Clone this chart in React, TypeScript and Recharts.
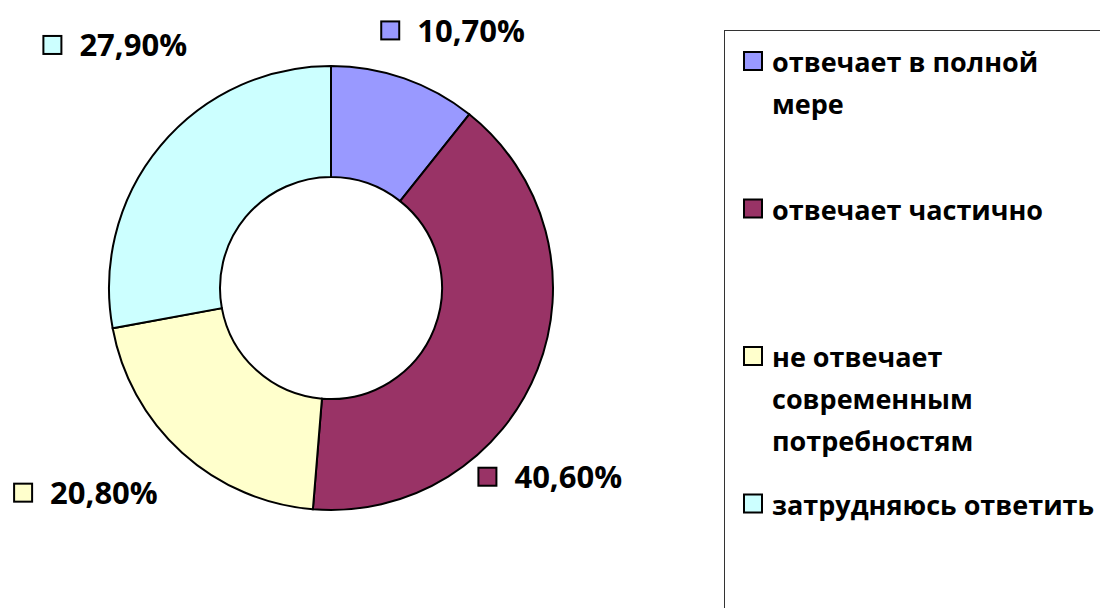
import React from "react";
import { PieChart, Pie, Cell, Legend } from "recharts";

const categories = [
  "отвечает в полной мере",
  "отвечает частично",
  "не отвечает современным потребностям",
  "затрудняюсь ответить",
];
const shares = [10.7, 40.6, 20.8, 27.9];
const colors = ["#9999FF", "#993366", "#FFFFCC", "#CCFFFF"];

// label placement (offset of marker from the slice's outer mid point)
const labelOffsets: [number, number][] = [
  [-24, -58],
  [-60, 97],
  [-169, 30],
  [-118, -111],
];

const data = categories.map((name, i) => ({ name, value: shares[i] }));

const FONT = "'Open Sans', 'DejaVu Sans', sans-serif";
const LEGEND_FONT_SIZE = 27;
const LABEL_FONT_SIZE = 31;
const RAD = Math.PI / 180;

const fmt = (v: number) => v.toFixed(2).replace(".", ",") + "%";

let ctx: CanvasRenderingContext2D | null = null;
function measure(text: string, font: string): number {
  if (!ctx) {
    const c = document.createElement("canvas");
    ctx = c.getContext("2d");
  }
  if (!ctx) return text.length * 15;
  ctx.font = font;
  return ctx.measureText(text).width;
}

function wrap(text: string, maxWidth: number): string[] {
  const font = `bold ${LEGEND_FONT_SIZE}px 'Open Sans'`;
  const words = text.split(" ");
  const lines: string[] = [];
  let cur = "";
  for (const w of words) {
    const test = cur ? cur + " " + w : w;
    if (cur && measure(test, font) > maxWidth) {
      lines.push(cur);
      cur = w;
    } else {
      cur = test;
    }
  }
  if (cur) lines.push(cur);
  return lines;
}

const renderLabel = (props: any) => {
  const { cx, cy, midAngle, outerRadius, index, value } = props;
  const px = cx + outerRadius * Math.cos(-midAngle * RAD);
  const py = cy + outerRadius * Math.sin(-midAngle * RAD);
  const [dx, dy] = labelOffsets[index];
  const mx = px + dx;
  const my = py + dy;
  return (
    <g key={`lbl-${index}`}>
      <rect
        x={mx + 1}
        y={my + 1}
        width={18}
        height={18}
        fill={colors[index]}
        stroke="#000"
        strokeWidth={2}
      />
      <text
        x={mx + 37}
        y={my + 21.5}
        fontFamily={FONT}
        fontWeight="bold"
        fontSize={LABEL_FONT_SIZE}
        fill="#000"
      >
        {fmt(value)}
      </text>
    </g>
  );
};

const renderLegend = () => {
  const slot = 147.5;
  return (
    <svg width={376} height={578} style={{ display: "block" }}>
      <rect x={0.5} y={0.5} width={420} height={640} fill="#fff" stroke="#333" strokeWidth={1} />
      {categories.map((name, i) => {
        const top = 21 + i * slot;
        const lines = wrap(name, 336);
        return (
          <g key={i}>
            <rect x={20} y={top + 1} width={18} height={18} fill={colors[i]} stroke="#000" strokeWidth={2} />
            <text fontFamily={FONT} fontWeight="bold" fontSize={LEGEND_FONT_SIZE} fill="#000">
              {lines.map((ln, j) => (
                <tspan key={j} x={48} y={top + 21 + j * 42}>
                  {ln}
                </tspan>
              ))}
            </text>
          </g>
        );
      })}
    </svg>
  );
};

export default function App() {
  return (
    <div style={{ position: "fixed", left: 0, top: 0, width: 1100, height: 608, background: "#fff" }}>
      <PieChart width={1100} height={608} margin={{ top: 0, right: 0, bottom: 0, left: 0 }}>
        <Pie
          data={data}
          dataKey="value"
          nameKey="name"
          cx={331}
          cy={288}
          innerRadius={111}
          outerRadius={222}
          startAngle={90}
          endAngle={-270}
          stroke="#000"
          strokeWidth={2}
          label={renderLabel}
          labelLine={false}
          isAnimationActive={false}
        >
          {data.map((d, i) => (
            <Cell key={d.name} fill={colors[i]} />
          ))}
        </Pie>
        <Legend
          layout="vertical"
          align="right"
          verticalAlign="middle"
          content={renderLegend}
          wrapperStyle={{ position: "absolute", left: 724, top: 30, width: 376, height: 578, margin: 0 }}
        />
      </PieChart>
    </div>
  );
}
